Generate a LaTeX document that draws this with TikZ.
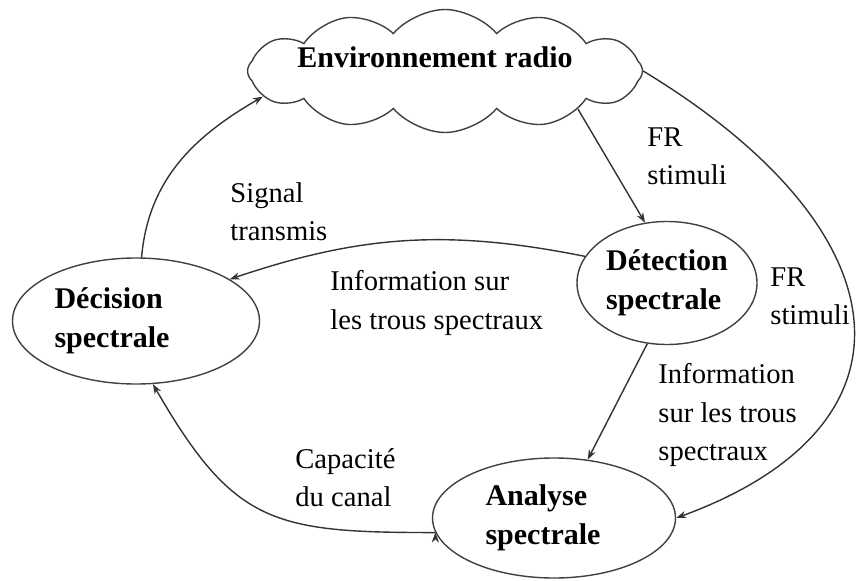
\documentclass[tikz,border=0pt]{standalone}
\usepackage{fontspec}
\setmainfont{Liberation Serif}
\usetikzlibrary{shapes.geometric,shapes.symbols,positioning,arrows.meta}

\begin{document}
\begin{tikzpicture}[x=1pt,y=1pt,on grid,>={Stealth[length=5pt,width=3.6pt]},
every node/.style={font=\fontsize{14.3}{19.3}\selectfont},
spec/.style={ellipse,draw=black!75,line width=0.7pt,inner sep=0pt,align=left,font=\fontsize{15}{19.3}\selectfont\bfseries},
txt/.style={anchor=north west,inner sep=0pt,align=left}]
\useasboundingbox (0,0) rectangle (428.5,290);
\node[spec,minimum width=123.5pt,minimum height=63pt] (dec) at (68,129.5) {Décision\\spectrale\hspace*{24pt}};
\node[spec,minimum width=90pt,minimum height=61.5pt] (det) [above right=19pt and 265.5pt of dec] {Détection\\spectrale};
\node[spec,minimum width=121.5pt,minimum height=60pt] (ana) [below right=98.5pt and 209pt of dec] {Analyse\\spectrale\hspace*{11pt}};
\node[cloud,draw=black!75,line width=0.7pt,cloud puffs=12,cloud puff arc=100,minimum width=197.5pt,minimum height=61.5pt] (env) [above right=125pt and 154.5pt of dec] {};
\node[font=\fontsize{15}{19.3}\selectfont\bfseries] (envtxt) at ([xshift=-5pt,yshift=7pt]env.center) {Environnement radio};
% labels
\node[txt] (fr1) at (323.5,226.5) {FR\\stimuli};
\node[txt] (sig) at (115,199) {Signal\\transmis};
\node[txt] (info1) at (165,155) {Information sur\\les trous spectraux};
\node[txt] (fr2) at (385,156.5) {FR\\stimuli};
\node[txt] (info2) at (329,108.5) {Information\\sur les trous\\spectraux};
\node[txt] (cap) at (147.5,66) {Capacité\\du canal};
\path[->,draw=black!80,line width=0.7pt]
(env.-16) edge [] (det.110)
(det.162) edge [bend right=15] (dec.24)
(dec.85) edge [out=85,in=210] (env.188)
(det.252) edge [] (ana.60)
(ana.187) edge [out=180,in=-60,looseness=1.3] (dec.-75)
;
\draw[->,black!80,line width=0.7pt] (env.east) .. controls +(132,-80) and +(126,46) .. (ana.east);
\end{tikzpicture}
\end{document}
